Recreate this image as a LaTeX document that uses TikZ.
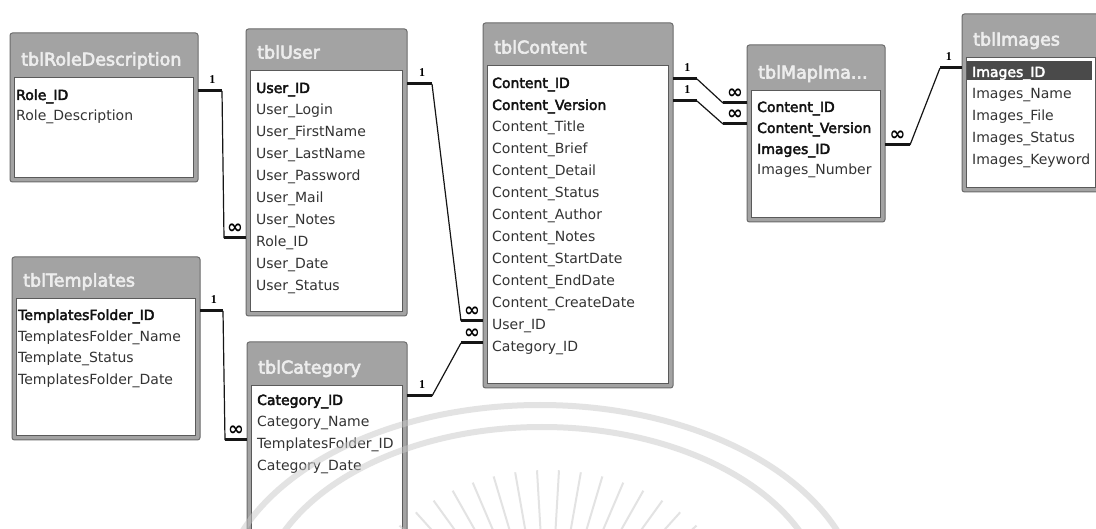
\documentclass[tikz,border=0pt]{standalone}
\usepackage{fontspec}
\setmainfont{DejaVu Sans}
\newfontfamily\pkfont{DejaVu Sans}[FakeBold=3]
\newfontfamily\ttlfont{DejaVu Sans}[FakeBold=3.5]
\newfontfamily\lblfont{Liberation Serif}
\usetikzlibrary{calc}
\definecolor{frameDark}{HTML}{6B6B6B}
\definecolor{hdr}{HTML}{A3A3A3}
\definecolor{listBorder}{HTML}{5A5A5A}
\definecolor{rowText}{HTML}{333333}
\definecolor{pkText}{HTML}{111111}
\definecolor{titleText}{HTML}{EDEDED}
\definecolor{lineDark}{HTML}{151515}
\definecolor{hiGray}{HTML}{4A4A4A}
\definecolor{wmGray}{HTML}{C8C8C8}

\newcommand\mktable[7]{%
  \node[tablebox, anchor=north west, minimum width={(#4-#2)*1pt}, minimum height={(#5-#3)*1pt}] (#1) at (#2,#3) {};
  \node[listbox, anchor=north west, minimum width={(#4-#2-9)*1pt}, minimum height={(#5-#6-5)*1pt}] (#1-list) at (#2+4.5,#6) {};
  \node[ttl, anchor=base west] (#1-title) at (#2+11,#6-11.5) {#7};
}
\newcommand\relation[7]{%
  \coordinate (#1a) at ($(#2 |- #3)+(0,-4)$);
  \coordinate (#1b) at ($(#1a)+(#4,0)$);
  \coordinate (#1d) at ($(#5 |- #6)+(0,-4)$);
  \coordinate (#1c) at ($(#1d)+(#7,0)$);
  \draw[stub] (#1a) -- node[onelbl] {1} (#1b);
  \draw[link] (#1b) -- (#1c);
  \draw[stub] (#1d) -- node[manylbl] {∞} (#1c);
}

\begin{document}
\begin{tikzpicture}[x=1pt,y=-1pt,
  tablebox/.style={draw=frameDark, fill=hdr, line width=1pt, rounded corners=2.5pt, inner sep=0pt, outer sep=0pt},
  listbox/.style={draw=listBorder, fill=white, line width=0.8pt, inner sep=0pt, outer sep=0pt},
  ttl/.style={font=\ttlfont\fontsize{17.5}{20}\selectfont, text=titleText, inner sep=0pt},
  fld/.style={anchor=west, inner sep=0pt, text height=10pt, text depth=0pt, font=\fontsize{14}{16}\selectfont, text=rowText},
  pk/.style={fld, font=\pkfont\fontsize{14}{16}\selectfont, text=pkText},
  hilite/.style={fill=hiGray, inner sep=0pt, anchor=west},
  stub/.style={line width=3pt, draw=lineDark},
  link/.style={line width=1.2pt, draw=lineDark},
  onelbl/.style={pos=0.6, yshift=11pt, inner sep=0pt, font=\lblfont\bfseries\fontsize{12}{12}\selectfont},
  manylbl/.style={pos=0.5, yshift=9pt, inner sep=0pt, font=\bfseries\fontsize{19}{19}\selectfont},
  wmarc/.style={draw=wmGray, line width=6pt, opacity=0.5},
  wmray/.style={draw=wmGray, line width=2pt, opacity=0.5}
]
\fill[white] (0,0) rectangle (1096,529);
\useasboundingbox (0,0) rectangle (1096,529);

% ---------- tables ----------
\mktable{tRole}{10}{33}{198}{182}{77}{tblRoleDescription}
\node[pk] (rRoleID) at (16,95) {Role\_ID};
\node[fld] (rRoleDesc) at (16,116) {Role\_Description};

\mktable{tUser}{246}{29}{407}{316}{70}{tblUser}
\node[pk]  (uUserID)  at (256,88)  {User\_ID};
\node[fld] (uLogin)   at (256,110) {User\_Login};
\node[fld] (uFirst)   at (256,132) {User\_FirstName};
\node[fld] (uLast)    at (256,154) {User\_LastName};
\node[fld] (uPass)    at (256,176) {User\_Password};
\node[fld] (uMail)    at (256,198) {User\_Mail};
\node[fld] (uNotes)   at (256,220) {User\_Notes};
\node[fld] (uRoleID)  at (256,242) {Role\_ID};
\node[fld] (uDate)    at (256,264) {User\_Date};
\node[fld] (uStatus)  at (256,286) {User\_Status};

\mktable{tContent}{483}{23}{673}{388}{65}{tblContent}
\node[pk]  (cContentID)      at (492,83)  {Content\_ID};
\node[pk]  (cContentVersion) at (492,105) {Content\_Version};
\node[fld] (cTitle)      at (492,127) {Content\_Title};
\node[fld] (cBrief)      at (492,149) {Content\_Brief};
\node[fld] (cDetail)     at (492,171) {Content\_Detail};
\node[fld] (cStatus)     at (492,193) {Content\_Status};
\node[fld] (cAuthor)     at (492,215) {Content\_Author};
\node[fld] (cNotes)      at (492,237) {Content\_Notes};
\node[fld] (cStart)      at (492,259) {Content\_StartDate};
\node[fld] (cEnd)        at (492,281) {Content\_EndDate};
\node[fld] (cCreate)     at (492,303) {Content\_CreateDate};
\node[fld] (cUserID)     at (492,325) {User\_ID};
\node[fld] (cCategoryID) at (492,347) {Category\_ID};

\mktable{tMap}{747}{45}{885}{222}{90}{tblMapIma...}
\node[pk]  (mContentID)      at (757,107) {Content\_ID};
\node[pk]  (mContentVersion) at (757,128) {Content\_Version};
\node[pk]  (mImagesID)       at (757,149) {Images\_ID};
\node[fld] (mNumber)         at (757,170) {Images\_Number};

\mktable{tImages}{962}{14}{1100}{192}{57}{tblImages}
\node[hilite, minimum width=125pt, minimum height=19pt] (iHi) at (967,71) {};
\node[pk, text=white] (iImagesID) at (972,72) {Images\_ID};
\node[fld] (iName)    at (972,94)  {Images\_Name};
\node[fld] (iFile)    at (972,116) {Images\_File};
\node[fld] (iStatus)  at (972,138) {Images\_Status};
\node[fld] (iKeyword) at (972,160) {Images\_Keyword};

\mktable{tTemplates}{12}{257}{200}{440}{298}{tblTemplates}
\node[pk]  (tpFolderID) at (18,315) {TemplatesFolder\_ID};
\node[fld] (tpName)     at (18,337) {TemplatesFolder\_Name};
\node[fld] (tpStatus)   at (18,358) {Template\_Status};
\node[fld] (tpDate)     at (18,380) {TemplatesFolder\_Date};

\mktable{tCategory}{247}{342}{407}{560}{385}{tblCategory}
\node[pk]  (gCategoryID) at (257,400) {Category\_ID};
\node[fld] (gName)       at (257,422) {Category\_Name};
\node[fld] (gFolderID)   at (257,444) {TemplatesFolder\_ID};
\node[fld] (gDate)       at (257,466) {Category\_Date};

% ---------- relationships ----------
\relation{rA}{tRole.east}{rRoleID}{24}{tUser.west}{uRoleID}{-22}
\relation{rB}{tUser.east}{uUserID}{25}{tContent.west}{cUserID}{-22}
\relation{rC}{tTemplates.east}{tpFolderID}{23}{tCategory.west}{gFolderID}{-22}
\relation{rD}{tCategory.east}{gCategoryID}{25}{tContent.west}{cCategoryID}{-22}
\relation{rE}{tContent.east}{cContentID}{24}{tMap.west}{mContentID}{-24}
\relation{rF}{tContent.east}{cContentVersion}{24}{tMap.west}{mContentVersion}{-24}
\relation{rG}{tImages.west}{iImagesID}{-22}{tMap.east}{mImagesID}{25}

% ---------- faint watermark ----------
\draw[wmarc] (540,605) ellipse [x radius=320, y radius=200];
\draw[wmarc] (542,605) ellipse [x radius=283, y radius=178];
\foreach \a in {225,231,...,315}
  \draw[wmray] ($(548,660)+(\a:210 and 190)$) -- ($(548,660)+(\a:130 and 118)$);
\end{tikzpicture}
\end{document}
